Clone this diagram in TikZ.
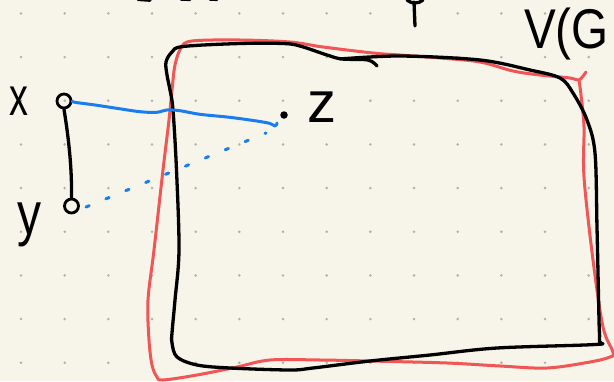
\documentclass[tikz,border=0pt]{standalone}
\usepackage{fontspec}
\setmainfont{Liberation Sans}
\definecolor{paper}{RGB}{247,245,233}
\definecolor{griddot}{RGB}{178,176,168}
\definecolor{penblue}{RGB}{25,125,240}
\definecolor{penred}{RGB}{242,85,85}
\begin{document}
\begin{tikzpicture}[x=1pt,y=-1pt,
  ink/.style={line width=3.3pt, line cap=round, line join=round},
  redline/.style={draw=penred, line width=3pt, line cap=round, line join=round},
  blueline/.style={draw=penblue, line width=3pt, line cap=round, line join=round},
  bluedots/.style={draw=penblue, line width=3pt, line cap=round, dash pattern=on 3.5pt off 18pt},
  vertex/.style={circle, draw, line width=2.8pt, inner sep=0pt, minimum size=14pt},
  zdot/.style={circle, fill, inner sep=0pt, minimum size=7.5pt},
  hand/.style={inner sep=0pt},
]
\useasboundingbox (0,0) rectangle (614,381);
\fill[paper] (0,0) rectangle (614,381);
\foreach \i in {0,...,13}
  \foreach \j in {0,...,8}
    \fill[griddot] (21+43.67*\i, 13.4+43.67*\j) circle (1.4pt);

% cut-off fragments at the top edge
\draw[ink] (407,0) .. controls (411,4) and (419,4) .. (423,0);
\draw[ink] (414,2) -- (415,26);
\draw[ink] (138,-0.6) -- (150,0.2);
\draw[ink] (181,-0.8) -- (190,-0.6);
\draw[ink] (210,-0.8) -- (217,-0.6);

% red outline
\draw[redline] plot[smooth, tension=0.55] coordinates {
 (586,72) (579,80) (570,78) (540,75) (513,71) (480,62) (440,58) (400,55)
 (373,53) (323,47) (290,42) (240,40) (192,41) (181,48) (175,65) (172,90)
 (169,120) (163,170) (154,250) (148,300) (149,340) (152,365) (157,377)
 (163,380) (197,375) (237,367) (270,360) (320,360) (370,361) (447,363)
 (500,366) (547,368) (590,362) (610,357) (613,352) (603,327) (593,260)
 (584,177) (584,127) (581,95) (579,80)};

% black outline
\draw[ink] plot[smooth, tension=0.55] coordinates {
 (377,66) (368,60) (342,59) (327,55) (300,46) (283,43.5) (240,43.5)
 (183,46.5) (172,52) (166,62) (167,75) (170,90) (173,110) (176.5,170)
 (179,250) (175,300) (172,333) (172,343) (177,357) (197,365) (230,368)
 (290,370) (313,368) (370,361) (430,355) (497,348) (595,344.5) (599.5,341)
 (599,320) (597,227) (595,153) (587,120) (573,93) (560,78) (530,70) (480,60)
 (400,56) (340,59)};

% vertices
\node[vertex] (nx) at (64,101) {};
\node[vertex] (ny) at (71.5,206) {};
\node[zdot] (nz) at (284,115) {};
\coordinate (zb) at (277,123);
\coordinate (ys) at (86,207);
\coordinate (ze) at (266,133);

% labels
\node[hand, xscale=0.7, font=\fontsize{54}{54}\selectfont] (lx) at (19,101) {x};
\node[hand, xscale=0.8, font=\fontsize{60}{60}\selectfont] (ly) at (29.5,224.5) {y};
\node[hand, font=\fontsize{58}{58}\selectfont] (lz) at (322,107.5) {z};
\node[hand, anchor=base west, xscale=0.85, font=\fontsize{56}{56}\selectfont] (lv) at (524,48) {V(G};

% edges
\draw[ink] (nx.south) .. controls (69,140) and (72,170) .. (ny.north);
\draw[blueline] plot[smooth, tension=0.6] coordinates {
 (nx.east) (75,102.3) (95,105) (116.7,108.3) (140,111.7) (156.7,112.3)
 (166.7,110) (180,110.7) (200,114.3) (233,117.7) (266.7,122.7) (275,126) (zb)};
\draw[bluedots] (ys) -- (ze);
\end{tikzpicture}
\end{document}
